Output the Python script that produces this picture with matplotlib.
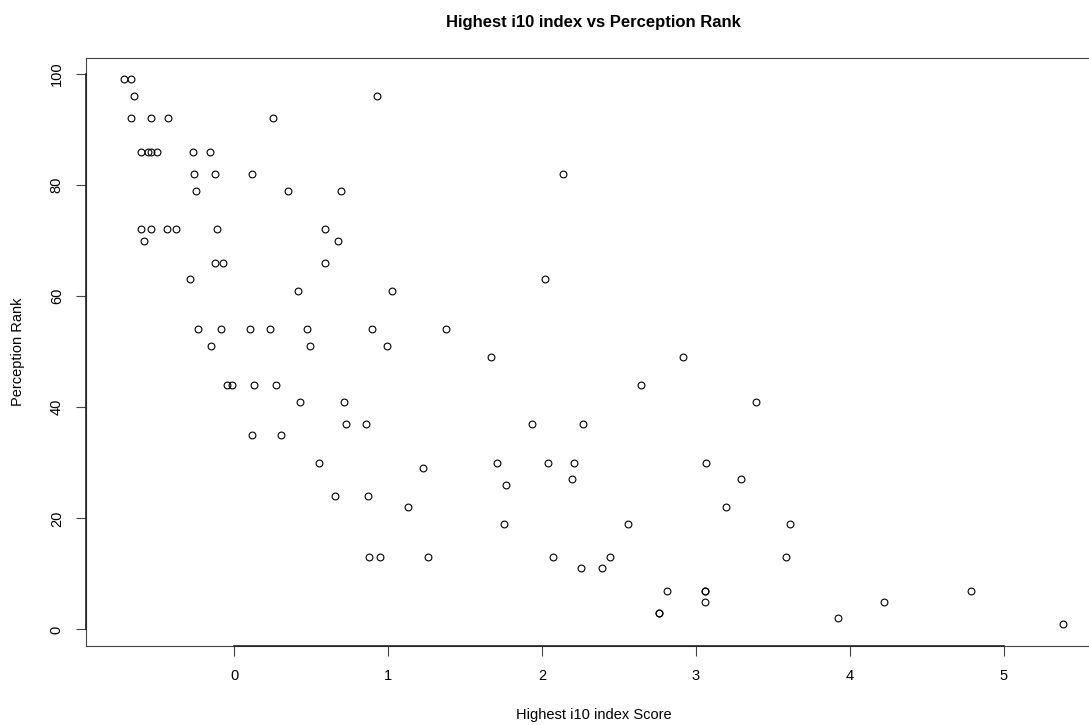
import matplotlib
matplotlib.use("Agg")
import matplotlib.pyplot as plt

plt.rcParams['font.family'] = ['Liberation Sans', 'DejaVu Sans']

# Highest i10 index score (x) vs perception rank (y)
i10_score = [
    -0.72, -0.67, -0.65, -0.67, -0.545, -0.43, 0.25, 0.93,
    -0.61, -0.56, -0.545, -0.50, -0.27, -0.16,
    -0.26, -0.125, 0.113,
    -0.25, 0.35, 0.69,
    -0.61, -0.54, -0.44, -0.38, -0.114, 0.587,
    -0.59, 0.675,
    -0.123, -0.073, 0.587,
    -0.29, 0.416, 1.024,
    -0.238, -0.088, 0.102, 0.234, 0.472, 0.892,
    -0.149, 0.49, 0.994,
    -0.05, -0.013, 0.126, 0.269,
    0.425, 0.71, 0.723, 0.855,
    0.117, 0.303, 0.55, 0.654, 0.866, 1.128,
    0.873, 0.946, 1.258, 1.225,
    1.373, 1.667, 2.914, 2.641, 1.933, 2.264,
    1.71, 2.037, 2.206, 2.197, 3.063, 3.295, 1.764,
    3.197, 1.753, 2.556, 2.072, 2.44, 2.251, 2.386,
    2.81, 3.059, 3.059, 3.059, 2.76, 2.76,
    2.134, 2.016, 3.392, 3.608, 3.587, 3.925, 4.225, 4.79, 5.388,
]
perception_rank = [
    99, 99, 96, 92, 92, 92, 92, 96,
    86, 86, 86, 86, 86, 86,
    82, 82, 82,
    79, 79, 79,
    72, 72, 72, 72, 72, 72,
    70, 70,
    66, 66, 66,
    63, 61, 61,
    54, 54, 54, 54, 54, 54,
    51, 51, 51,
    44, 44, 44, 44,
    41, 41, 37, 37,
    35, 35, 30, 24, 24, 22,
    13, 13, 13, 29,
    54, 49, 49, 44, 37, 37,
    30, 30, 30, 27, 30, 27, 26,
    22, 19, 19, 13, 13, 11, 11,
    7, 7, 7, 5, 3, 3,
    82, 63, 41, 19, 13, 2, 5, 7, 1,
]

x_ticks = [0, 1, 2, 3, 4, 5]
y_ticks = [0, 20, 40, 60, 80, 100]

fig = plt.figure(figsize=(10.89, 7.25), dpi=100)
# plot region runs past the right edge (reference image is cropped)
ax = fig.add_axes([0.079, 0.1094, 0.932, 0.811])

ax.plot(i10_score, perception_rank, linestyle='none', marker='o',
        markersize=4.9, markerfacecolor='none', markeredgecolor='black',
        markeredgewidth=0.8)

ax.margins(x=0.04, y=0.04)
ax.set_xticks(x_ticks)
ax.set_yticks(y_ticks)
ax.set_yticklabels([str(v) for v in y_ticks], rotation=90, va='center')

for s in ax.spines.values():
    s.set_linewidth(0.8)
    s.set_color('#444444')

ax.tick_params(length=7, width=0.8, color='#444444', labelsize=10.5, pad=9)
ax.tick_params(axis='x', pad=10)

# R-style axis lines from first to last tick
x0, x1 = ax.get_xlim()
y0, y1 = ax.get_ylim()
ax.plot([x_ticks[0], x_ticks[-1]], [y0, y0], color='#222222', lw=1.2,
        clip_on=False, zorder=5)
ax.plot([x0, x0], [y_ticks[0], y_ticks[-1]], color='#222222', lw=1.2,
        clip_on=False, zorder=5)
ax.set_xlim(x0, x1)
ax.set_ylim(y0, y1)

ax.set_title('Highest i10 index vs Perception Rank', fontsize=12,
             fontweight='bold', pad=22)
ax.set_xlabel('Highest i10 index Score', fontsize=10.5, labelpad=18)
ax.set_ylabel('Perception Rank', fontsize=10.5, labelpad=18)

fig.savefig('out.png', dpi=100)
